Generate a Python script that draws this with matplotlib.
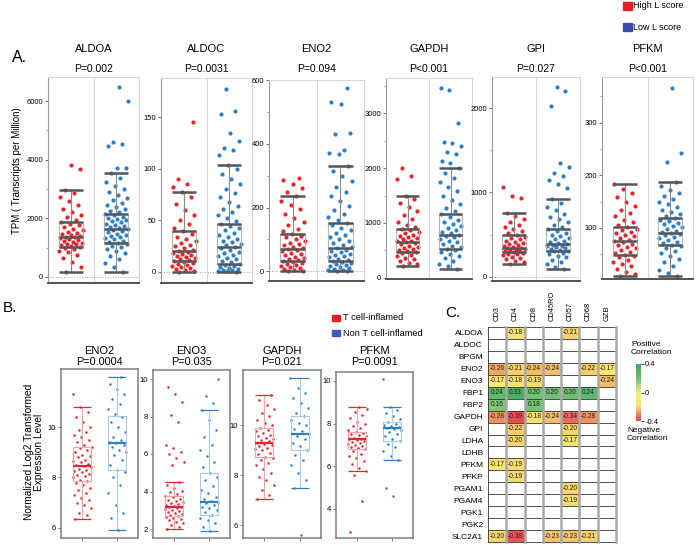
import numpy as np
import matplotlib
matplotlib.use('Agg')
import matplotlib.pyplot as plt
from matplotlib.patches import Rectangle
from matplotlib.colors import LinearSegmentedColormap, Normalize
from matplotlib.cm import ScalarMappable
from matplotlib.ticker import MultipleLocator

plt.rcParams['font.family'] = ['Liberation Sans', 'DejaVu Sans']

# ---------------- DATA ----------------
# Panel A : TPM by gene, High L score (red) vs Low L score (blue)
A_genes = ['ALDOA', 'ALDOC', 'ENO2', 'GAPDH', 'GPI', 'PFKM']
A_pvals = ['P=0.002', 'P=0.0031', 'P=0.094', 'P<0.001', 'P=0.027', 'P<0.001']
# box stats: (lower whisker, Q1, median, Q3, upper whisker)
A_high_stats = [(170, 1020, 1360, 1880, 2970), (0, 10.6, 20.3, 39, 77), (0, 31, 69, 117, 236),
                (220, 470, 650, 890, 1490), (150, 295, 345, 490, 755), (8, 49, 75, 102, 183)]
A_low_stats = [(170, 1160, 1640, 2150, 3550), (0, 7.7, 24, 46.4, 104), (0, 31, 72, 151, 331),
               (170, 530, 780, 1160, 2000), (95, 310, 390, 565, 920), (8, 68, 90, 119, 187)]

ALDOA_high = [170, 350, 520, 650, 760, 840, 900, 950, 990, 1020, 1050, 1080, 1110, 1140, 1170, 1200, 1230,
              1260, 1290, 1320, 1350, 1370, 1400, 1430, 1470, 1510, 1550, 1600, 1650, 1700, 1760, 1820,
              1880, 1950, 2030, 2120, 2220, 2330, 2450, 2580, 2720, 2850, 2970, 3680, 3820]
ALDOA_low = [170, 330, 480, 610, 720, 810, 890, 960, 1020, 1070, 1120, 1160, 1200, 1240, 1280, 1320, 1360,
             1400, 1440, 1480, 1520, 1560, 1600, 1640, 1670, 1700, 1740, 1780, 1820, 1860, 1900, 1940,
             1980, 2020, 2060, 2100, 2150, 2200, 2260, 2320, 2390, 2460, 2540, 2620, 2710, 2800, 2900,
             3000, 3110, 3230, 3360, 3550, 3700, 3720, 4470, 4530, 4600, 6000, 6480]
ALDOC_high = [0, 0.5, 1.5, 2.5, 3.5, 4.5, 5.5, 6.5, 7.5, 8.5, 9.5, 10.6, 11.5, 12.5, 13.5, 14.5, 15.5, 16.5,
              17.5, 18.5, 19.5, 20.3, 21.5, 23, 24.5, 26, 28, 30, 32, 34, 36.5, 39, 42, 46, 50, 55, 60, 66,
              72, 77, 82, 85, 90, 145]
ALDOC_low = [0, 0.3, 0.8, 1.3, 2, 2.8, 3.6, 4.5, 5.5, 6.5, 7.7, 9, 10.5, 12, 13.5, 15, 16.5, 18, 19.5, 21,
             22.5, 24, 25.5, 27, 28.5, 30, 32, 34, 36, 38, 40, 42, 44, 46.4, 49, 52, 55, 58, 61, 64, 68, 72,
             76, 80, 85, 90, 95, 100, 104, 113, 118, 120, 127, 135, 153, 156, 177]
ENO2_high = [0, 2, 4, 7, 10, 13, 16, 19, 22, 25, 28, 31, 34, 38, 42, 46, 50, 54, 58, 62, 66, 69, 73, 77, 81,
             85, 90, 95, 100, 106, 112, 117, 125, 134, 144, 155, 167, 180, 194, 208, 222, 236, 250, 262,
             275, 285, 293]
ENO2_low = [0, 1, 3, 5, 8, 11, 14, 17, 20, 23, 26, 29, 31, 35, 39, 43, 47, 51, 55, 59, 63, 67, 72, 77, 82,
            88, 94, 100, 107, 114, 121, 128, 136, 144, 151, 160, 170, 181, 193, 206, 220, 235, 250, 266,
            282, 298, 314, 331, 369, 372, 381, 430, 435, 525, 532, 576]
GAPDH_high = [220, 250, 280, 310, 340, 370, 400, 425, 450, 470, 490, 510, 530, 550, 570, 590, 610, 630, 650,
              665, 680, 700, 720, 740, 760, 785, 810, 840, 865, 890, 930, 970, 1020, 1080, 1140, 1210, 1290,
              1370, 1440, 1490, 1800, 1850, 2000]
GAPDH_low = [170, 210, 260, 310, 360, 400, 440, 470, 500, 530, 560, 590, 620, 650, 680, 710, 740, 760, 780,
             810, 840, 870, 900, 940, 980, 1020, 1060, 1110, 1160, 1220, 1280, 1350, 1420, 1500, 1580, 1660,
             1740, 1820, 1910, 2000, 2100, 2120, 2250, 2300, 2400, 2450, 2480, 2820, 3420, 3450]
GPI_high = [150, 170, 190, 210, 225, 240, 255, 265, 275, 285, 295, 302, 310, 317, 324, 331, 338, 345, 355,
            365, 375, 388, 400, 415, 430, 445, 460, 475, 490, 515, 540, 565, 590, 620, 650, 685, 720, 755,
            930, 960, 1070]
GPI_low = [95, 120, 150, 180, 205, 230, 250, 270, 285, 300, 310, 320, 330, 340, 350, 360, 370, 380, 390, 402,
           415, 430, 445, 460, 480, 500, 520, 542, 565, 590, 620, 650, 680, 715, 750, 790, 830, 875, 920,
           1050, 1100, 1150, 1200, 1230, 1300, 1350, 2030, 2200, 2250]
PFKM_high = [8, 12, 17, 22, 27, 32, 36, 40, 44, 47, 49, 52, 55, 58, 61, 64, 67, 70, 73, 75, 78, 81, 84, 87, 90,
             93, 96, 99, 102, 106, 111, 116, 122, 128, 135, 142, 150, 158, 166, 175, 183]
PFKM_low = [8, 14, 21, 28, 35, 41, 47, 52, 57, 61, 65, 68, 71, 74, 77, 80, 83, 86, 88, 90, 92, 95, 98, 101, 104,
            107, 110, 113, 116, 119, 123, 127, 131, 135, 140, 145, 150, 155, 161, 167, 173, 180, 187, 225,
            243, 367]
A_high_points = [ALDOA_high, ALDOC_high, ENO2_high, GAPDH_high, GPI_high, PFKM_high]
A_low_points = [ALDOA_low, ALDOC_low, ENO2_low, GAPDH_low, GPI_low, PFKM_low]
A_yticks = [[0, 2000, 4000, 6000], [0, 50, 100, 150], [0, 200, 400, 600], [0, 1000, 2000, 3000],
            [0, 1000, 2000], [100, 200, 300]]

# Panel B : log2 expression, T cell-inflamed (red) vs Non T cell-inflamed (blue)
B_genes = ['ENO2', 'ENO3', 'GAPDH', 'PFKM']
B_pvals = ['P=0.0004', 'P=0.035', 'P=0.021', 'P=0.0091']
B_in_stats = [(6.35, 7.86, 8.45, 9.2, 10.8), (2.0, 2.7, 3.2, 3.76, 4.5),
              (7.05, 8.75, 9.3, 9.9, 11.2), (5.78, 6.8, 7.28, 7.6, 8.78)]
B_non_stats = [(5.9, 8.3, 9.37, 10.45, 12.0), (1.9, 2.75, 3.45, 5.0, 8.35),
               (7.5, 9.0, 9.65, 10.35, 11.9), (6.3, 7.2, 7.8, 8.07, 8.78)]
ENO2_in = [6.35, 6.5, 6.6, 6.8, 6.9, 7.0, 7.1, 7.2, 7.3, 7.4, 7.5, 7.6, 7.7, 7.8, 7.86, 7.9, 8.0, 8.05, 8.1,
           8.15, 8.2, 8.25, 8.3, 8.35, 8.4, 8.45, 8.5, 8.55, 8.6, 8.65, 8.7, 8.8, 8.85, 8.9, 9.0, 9.1, 9.15,
           9.2, 9.3, 9.4, 9.5, 9.6, 9.7, 9.8, 9.9, 10.0, 10.2, 10.4, 10.6, 10.8, 11.3]
ENO2_non = [5.9, 6.4, 6.6, 6.9, 7.4, 7.7, 8.0, 8.2, 8.3, 8.5, 8.7, 8.9, 9.0, 9.1, 9.2, 9.3, 9.37, 9.4, 9.5,
            9.6, 9.8, 10.0, 10.2, 10.4, 10.5, 10.7, 10.9, 11.1, 11.3, 11.5, 11.7, 12.0]
ENO3_in = [2.0, 2.1, 2.2, 2.3, 2.4, 2.5, 2.55, 2.6, 2.65, 2.7, 2.75, 2.8, 2.85, 2.9, 2.95, 3.0, 3.05, 3.1,
           3.15, 3.2, 3.25, 3.3, 3.35, 3.4, 3.45, 3.5, 3.55, 3.6, 3.7, 3.76, 3.85, 3.95, 4.05, 4.2, 4.35,
           4.5, 5.4, 5.6, 5.8, 6.0, 6.1, 6.3, 6.5, 7.7, 8.1, 8.8, 9.2, 9.6]
ENO3_non = [1.9, 2.1, 2.3, 2.5, 2.6, 2.75, 2.9, 3.0, 3.1, 3.2, 3.3, 3.4, 3.45, 3.5, 3.6, 3.7, 3.9, 4.1, 4.3,
            4.6, 4.8, 5.0, 5.3, 5.6, 5.9, 6.2, 6.5, 6.9, 7.3, 7.8, 8.35, 8.7, 9.1, 10.0]
GAPDHB_in = [7.05, 7.2, 7.4, 7.6, 7.8, 7.95, 8.1, 8.25, 8.4, 8.5, 8.6, 8.7, 8.75, 8.85, 8.9, 9.0, 9.05, 9.1,
             9.15, 9.2, 9.25, 9.3, 9.35, 9.4, 9.45, 9.5, 9.55, 9.6, 9.7, 9.75, 9.8, 9.9, 10.0, 10.1, 10.2,
             10.35, 10.5, 10.65, 10.8, 11.0, 11.2]
GAPDHB_non = [5.6, 7.5, 7.8, 8.1, 8.4, 8.6, 8.8, 9.0, 9.15, 9.3, 9.45, 9.55, 9.65, 9.75, 9.85, 10.0, 10.1,
              10.2, 10.35, 10.5, 10.7, 10.9, 11.1, 11.3, 11.5, 11.9]
PFKMB_in = [2.9, 4.37, 5.6, 5.78, 5.9, 6.1, 6.25, 6.4, 6.5, 6.6, 6.7, 6.8, 6.85, 6.9, 6.95, 7.0, 7.05, 7.1,
            7.15, 7.2, 7.25, 7.28, 7.3, 7.35, 7.4, 7.45, 7.5, 7.55, 7.6, 7.7, 7.8, 7.9, 8.0, 8.1, 8.25, 8.4,
            8.55, 8.7, 8.78]
PFKMB_non = [4.6, 4.98, 6.3, 6.5, 6.7, 6.9, 7.05, 7.2, 7.3, 7.4, 7.5, 7.6, 7.7, 7.75, 7.8, 7.85, 7.9, 7.95,
             8.0, 8.07, 8.2, 8.35, 8.5, 8.65, 8.78, 10.1]
B_in_points = [ENO2_in, ENO3_in, GAPDHB_in, PFKMB_in]
B_non_points = [ENO2_non, ENO3_non, GAPDHB_non, PFKMB_non]
B_yticks = [[6, 8, 10], [2, 4, 6, 8, 10], [6, 8, 10], [4, 6, 8, 10]]

# Panel C : correlation heatmap
C_rows = ['ALDOA', 'ALDOC', 'BPGM', 'ENO2', 'ENO3', 'FBP1', 'FBP2', 'GAPDH', 'GPI', 'LDHA', 'LDHB',
          'PFKM', 'PFKP', 'PGAM1', 'PGAM4', 'PGK1', 'PGK2', 'SLC2A1']
C_cols = ['CD3', 'CD4', 'CD8', 'CD45RO', 'CD57', 'CD68', 'GZB']
n = np.nan
C_values = [
    [n, -0.18, n, n, -0.21, n, n],
    [n, n, n, n, n, n, n],
    [n, n, n, n, n, n, n],
    [-0.26, -0.21, -0.24, -0.24, n, -0.22, -0.17],
    [-0.17, -0.18, -0.19, n, n, n, -0.24],
    [0.24, 0.33, 0.20, 0.20, 0.20, 0.24, n],
    [0.16, n, 0.18, n, n, n, n],
    [-0.28, -0.39, -0.18, -0.24, -0.34, -0.28, n],
    [n, -0.22, n, n, -0.20, n, n],
    [n, -0.20, n, n, -0.17, n, n],
    [n, n, n, n, n, n, n],
    [-0.17, -0.19, n, n, n, n, n],
    [n, -0.19, n, n, n, n, n],
    [n, n, n, n, -0.20, n, n],
    [n, n, n, n, -0.19, n, n],
    [n, n, n, n, n, n, n],
    [n, n, n, n, n, n, n],
    [-0.20, -0.38, n, -0.23, -0.23, -0.21, n],
]

# ---------------- STYLE / LAYOUT ----------------
RED = '#e8232b'
BLUE = '#2b7fc6'
W, H = 699, 545
fig = plt.figure(figsize=(W / 100, H / 100), dpi=100)


def fx(x):
    return x / W


def fy(y):
    return 1 - y / H


def rect(l, t, r, b):
    return [l / W, 1 - b / H, (r - l) / W, (b - t) / H]


def jitter(k, width, phase=0.31):
    return ((np.arange(k) * 0.6180339887 + phase) % 1.0 - 0.5) * width


# ---------------- PANEL A ----------------
A_boxes = [(48, 77, 139, 283), (161, 78, 252, 283), (269, 80, 364, 281),
           (386, 78, 472, 279), (492, 77, 580, 281), (602, 77, 693, 279)]
A_ylims = [(-205, 6820), (-11, 188), (-31, 601), (-20, 3640), (-50, 2370), (3, 387)]
A_minor = [1000, None, 100, 500, 500, 50]
A_zero = [True, True, True, False, True, False]

for i in range(6):
    l, t, r, b = A_boxes[i]
    ax = fig.add_axes(rect(l, t, r, b))
    ax.set_xlim(0.5, 2.5)
    ax.set_ylim(*A_ylims[i])
    ax.axvline(1.5, color='#d9d9d9', lw=0.8, zorder=1)
    if A_zero[i]:
        ax.axhline(0, color='#a0a0a0', lw=0.7, ls=':', zorder=1)
    for pos, pts, st, col, ph in ((1, A_high_points[i], A_high_stats[i], RED, 0.31),
                                  (2, A_low_points[i], A_low_stats[i], BLUE, 0.77)):
        v = np.asarray(pts, float)
        ax.scatter(pos + jitter(len(v), 0.52, ph), v, s=9, color=col, lw=0, zorder=2)
        lo, q1, med, q3, hi = st
        w = 0.53
        ax.add_patch(Rectangle((pos - w / 2, q1), w, q3 - q1, fill=False, ec='#b5b5b5', lw=0.8, zorder=3))
        ax.vlines(pos, lo, q1, color='#8a8a8a', lw=0.8, zorder=3)
        ax.vlines(pos, q3, hi, color='#8a8a8a', lw=0.8, zorder=3)
        ax.hlines([lo, q1, med, q3, hi], pos - w / 2, pos + w / 2, color='#555555', lw=1.8, zorder=4)
    ax.set_xticks([])
    ax.set_yticks(A_yticks[i])
    if A_minor[i]:
        ax.yaxis.set_minor_locator(MultipleLocator(A_minor[i]))
    ax.tick_params(axis='y', which='major', labelsize=5.5, length=2.5, width=0.6, pad=1, color='#555555')
    ax.tick_params(axis='y', which='minor', length=1.5, width=0.5, color='#777777')
    for s in ('top', 'right'):
        ax.spines[s].set_color('#d5d5d5')
        ax.spines[s].set_linewidth(0.8)
    ax.spines['left'].set_color('#9a9a9a')
    ax.spines['left'].set_linewidth(0.8)
    ax.spines['bottom'].set_color('#444444')
    ax.spines['bottom'].set_linewidth(1.3)
    cx = (l + r) / 2
    fig.text(fx(cx), fy(49), A_genes[i], ha='center', va='center', fontsize=8)
    fig.text(fx(cx), fy(69), A_pvals[i], ha='center', va='center', fontsize=7.5)

fig.text(fx(12), fy(57), 'A.', ha='left', va='center', fontsize=11.5)
fig.text(fx(17), fy(171), 'TPM ( Transcripts per Million)', rotation=90, ha='center', va='center', fontsize=7)

# legend A
fig.add_artist(Rectangle((fx(623), fy(10)), 9 / W, 8 / H, color='#e41e26', transform=fig.transFigure))
fig.add_artist(Rectangle((fx(623), fy(31)), 9 / W, 8 / H, color='#3b4cae', transform=fig.transFigure))
fig.text(fx(633), fy(6), 'High L score', ha='left', va='center', fontsize=6.5)
fig.text(fx(633), fy(27), 'Low L score', ha='left', va='center', fontsize=6.5)

# ---------------- PANEL B ----------------
B_boxes = [(61, 369, 138, 538), (153, 370, 230, 538), (243, 370, 321, 538), (336, 372, 413, 538)]
B_ylims = [(5.6, 12.3), (1.52, 10.48), (5.5, 12.2), (2.64, 10.42)]

for i in range(4):
    l, t, r, b = B_boxes[i]
    ax = fig.add_axes(rect(l, t, r, b))
    ax.set_xlim(0.4, 2.6)
    ax.set_ylim(*B_ylims[i])
    for pos, pts, st, col, light, ph in ((1, B_in_points[i], B_in_stats[i], RED, '#f2a5a5', 0.13),
                                         (2, B_non_points[i], B_non_stats[i], BLUE, '#a9c9ea', 0.57)):
        v = np.asarray(pts, float)
        ax.scatter(pos + jitter(len(v), 0.55, ph), v, s=3.2, color=col, lw=0, zorder=2)
        lo, q1, med, q3, hi = st
        w = 0.5
        ax.add_patch(Rectangle((pos - w / 2, q1), w, q3 - q1, fill=False, ec=light, lw=0.8, zorder=3))
        ax.vlines(pos, lo, q1, color=light, lw=0.8, zorder=3)
        ax.vlines(pos, q3, hi, color=light, lw=0.8, zorder=3)
        ax.hlines([lo, hi], pos - w / 2, pos + w / 2, color=col, lw=0.9, zorder=4)
        ax.hlines(med, pos - w / 2, pos + w / 2, color=col, lw=1.6, zorder=4)
    ax.set_xticks([1, 2])
    ax.set_xticklabels([])
    ax.set_yticks(B_yticks[i])
    ax.tick_params(axis='x', length=2.5, width=0.6, color='#666666')
    ax.tick_params(axis='y', labelsize=5.5, length=2, width=0.6, pad=1.5, color='#666666')
    for s in ax.spines.values():
        s.set_color('#808080')
        s.set_linewidth(1.1)
    cx = (l + r) / 2
    fig.text(fx(cx), fy(351), B_genes[i], ha='center', va='center', fontsize=8)
    fig.text(fx(cx), fy(362), B_pvals[i], ha='center', va='center', fontsize=7.8)

fig.text(fx(3), fy(308), 'B.', ha='left', va='center', fontsize=11)
fig.text(fx(34), fy(452), 'Normalized Log2 Transformed\nExpression Level', rotation=90,
         ha='center', va='center', fontsize=7.3, linespacing=1.1)
fig.add_artist(Rectangle((fx(332), fy(321)), 8 / W, 6 / H, color='#e41e26', transform=fig.transFigure))
fig.add_artist(Rectangle((fx(332), fy(336)), 8 / W, 6 / H, color='#3b5bb8', transform=fig.transFigure))
fig.text(fx(343), fy(318), 'T cell-inflamed', ha='left', va='center', fontsize=6.7)
fig.text(fx(343), fy(333), 'Non T cell-inflamed', ha='left', va='center', fontsize=6.7)

# ---------------- PANEL C ----------------
cmap = LinearSegmentedColormap.from_list('corr', [
    (0.0, '#ea4652'), (0.075, '#ec6a5c'), (0.15, '#ef935f'), (0.2, '#f3bc68'), (0.2375, '#f5d26d'),
    (0.2875, '#f7e572'), (0.5, '#f6ec80'), (0.625, '#b6d879'), (0.7, '#80c478'), (0.8, '#5fb86c'),
    (1.0, '#3fa95e')])
norm = Normalize(-0.4, 0.4)
vals = np.ma.masked_invalid(np.array(C_values, float))

axc = fig.add_axes(rect(488, 327, 616, 542))
axc.pcolormesh(np.arange(len(C_cols) + 1), np.arange(len(C_rows) + 1), vals, cmap=cmap, norm=norm)
axc.set_xlim(0, len(C_cols))
axc.set_ylim(len(C_rows), 0)
for ri in range(len(C_rows)):
    for ci in range(len(C_cols)):
        v = C_values[ri][ci]
        if not np.isnan(v):
            axc.text(ci + 0.5, ri + 0.5, f'{v:.2f}', ha='center', va='center', fontsize=4.8, color='#222222')
for j in range(len(C_rows) + 1):
    axc.axhline(j, color='#333333', lw=0.6, clip_on=False)
for k in range(1, len(C_cols) + 1):
    axc.axvline(k, color='#a8a8a8', lw=1.8, clip_on=False)
axc.axvline(0, color='#333333', lw=0.6, clip_on=False)
for s in axc.spines.values():
    s.set_visible(False)
axc.xaxis.tick_top()
axc.set_xticks(np.arange(len(C_cols)) + 0.5)
axc.set_xticklabels(C_cols, rotation=90, fontsize=5.4)
axc.set_yticks(np.arange(len(C_rows)) + 0.5)
axc.set_yticklabels(C_rows, fontsize=6)
axc.tick_params(axis='x', length=0, pad=4)
axc.tick_params(axis='y', length=0, pad=3.5)

fig.text(fx(445), fy(313), 'C.', ha='left', va='center', fontsize=11)

cax = fig.add_axes(rect(636, 364, 641, 421))
cb = fig.colorbar(ScalarMappable(norm=norm, cmap=cmap), cax=cax, ticks=[-0.4, 0, 0.4])
cb.ax.set_yticklabels(['-0.4', '0', '0.4'])
cb.ax.tick_params(labelsize=5.5, length=2, width=0.5, pad=1)
cb.outline.set_visible(False)
fig.text(fx(631), fy(349), 'Positive\nCorrelation', ha='left', va='center', fontsize=6, linespacing=1.2)
fig.text(fx(627), fy(435), 'Negative\nCorrelation', ha='left', va='center', fontsize=6, linespacing=1.2)

fig.savefig('out.png', dpi=100)
